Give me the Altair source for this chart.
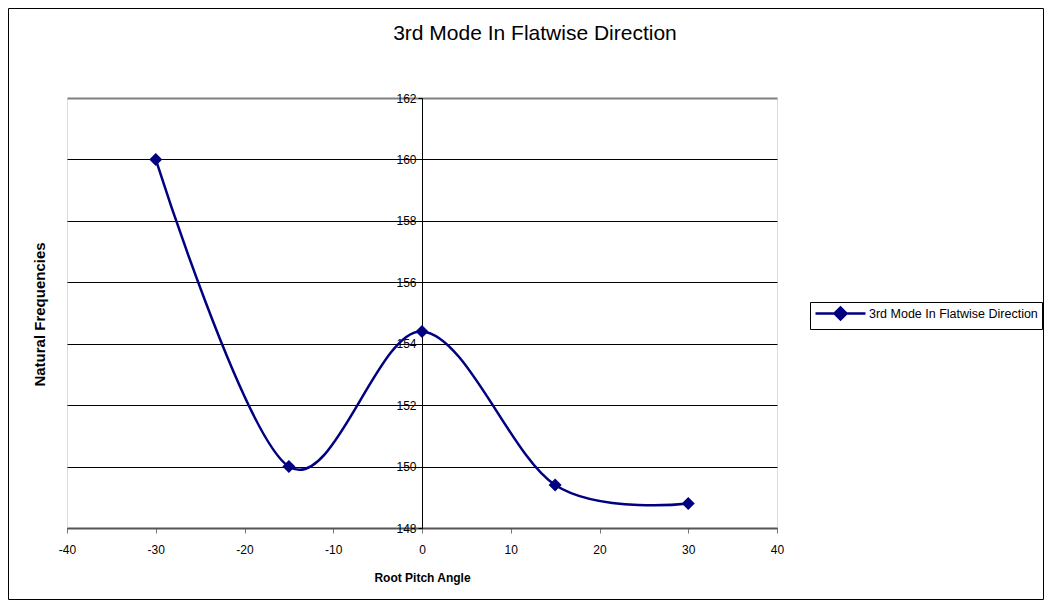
import altair as alt
import pandas as pd

angles = [-30, -15, 0, 15, 30]
freqs = [160.0, 150.0, 154.4, 149.4, 148.8]
series_name = "3rd Mode In Flatwise Direction"
chart_title = ["3rd Mode In Flatwise Direction"]
x_ticks = [-40, -30, -20, -10, 0, 10, 20, 30, 40]
y_ticks = [148, 150, 152, 154, 156, 158, 160, 162]

df = pd.DataFrame({"angle": angles, "freq": freqs, "series": [series_name] * len(angles)})

FONT = "Liberation Sans"
NAVY = "#000080"

W, H = 710, 430

x_enc = alt.X(
    "angle:Q",
    scale=alt.Scale(domain=[-40, 40], nice=False, zero=False),
    axis=alt.Axis(
        values=x_ticks, title="Root Pitch Angle", grid=False, labelExpr="'' + datum.value",
        labelFlush=False,
        domainColor="#555555", domainWidth=2, tickColor="#777777", tickSize=5,
        labelPadding=11, titlePadding=17, labelFontSize=12, titleFontSize=12,
        titleFontWeight="bold", labelFont=FONT, titleFont=FONT, labelColor="black",
        titleColor="black",
    ),
)
y_enc = alt.Y(
    "freq:Q",
    scale=alt.Scale(domain=[148, 162], nice=False, zero=False),
    axis=alt.Axis(
        values=y_ticks, title="Natural Frequencies", grid=True,
        gridColor=alt.condition("datum.value == 162", alt.value("#808080"), alt.value("black")),
        gridWidth=alt.condition("datum.value == 162", alt.value(2), alt.value(1)),
        gridOpacity=1, offset=-355, domainColor="black", domainWidth=1,
        tickColor="black", tickSize=4, labelPadding=2, labelFontSize=12, labelFlush=False,
        titleFontSize=15, titleFontWeight="bold", labelFont=FONT, titleFont=FONT,
        labelColor="black", titleColor="black", titleX=-375, titleY=216,
        titleAngle=270, labelExpr="'' + datum.value",
    ),
)

line = alt.Chart(df).mark_line(interpolate="cardinal", strokeWidth=2.5).encode(
    x=x_enc,
    y=y_enc,
    color=alt.Color(
        "series:N",
        scale=alt.Scale(range=[NAVY]),
        legend=alt.Legend(
            title=None, orient="none", legendX=743, legendY=204,
            symbolType="M-1,0L7.33,0M2.17,0L3.17,-1L4.17,0L3.17,1Z",
            symbolSize=144, symbolStrokeWidth=2.5, symbolFillColor=NAVY,
            symbolStrokeColor=NAVY, labelFontSize=12.5, labelFont=FONT,
            labelColor="black", strokeColor="black", padding=4, labelOffset=40,
            fillColor="white", labelLimit=400,
        ),
    ),
)

points = alt.Chart(df).mark_point(
    shape="diamond", filled=True, size=170, color=NAVY, opacity=1
).encode(x="angle:Q", y="freq:Q")

border = alt.Chart(alt.Data(values=[{"a": 1}])).mark_rect(
    fill=None, stroke="black", strokeWidth=1
).encode(
    x=alt.value(-58.5), x2=alt.value(976.5), y=alt.value(-89.5), y2=alt.value(501.5)
)

title_df = pd.DataFrame({"t": chart_title})
title = alt.Chart(title_df).mark_text(
    font=FONT, fontSize=21, color="black", align="center", baseline="alphabetic"
).encode(text="t:N", x=alt.value(468), y=alt.value(-58))

chart = alt.layer(border, line, points, title).properties(
    width=W, height=H,
    autosize=alt.AutoSizeParams(type="none"),
    padding={"left": 59, "top": 90, "right": 267, "bottom": 72},
).configure_view(stroke="#808080", strokeWidth=2, fill="white").configure(background="white")

chart.save("out.html", embed_options={"renderer": "svg", "actions": False})
